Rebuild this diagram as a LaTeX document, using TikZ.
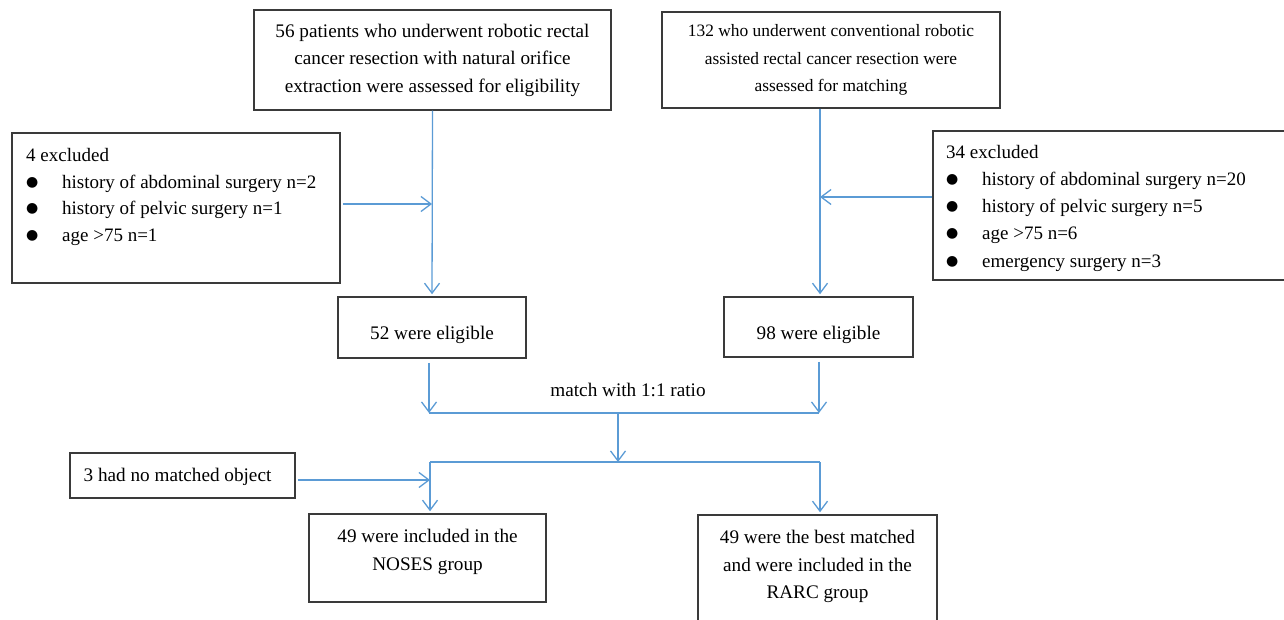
\documentclass[tikz,border=0pt]{standalone}
\usepackage{fontspec}
\setmainfont{Liberation Serif}
\newfontfamily\dejavu{DejaVu Sans}
\usetikzlibrary{arrows.meta}
\definecolor{flowblue}{HTML}{5B9BD5}
\definecolor{boxgray}{HTML}{3A3A3A}
\newcommand{\bul}{\makebox[36pt][l]{\raisebox{2pt}{\dejavu\fontsize{14}{14}\selectfont ●}}}
\tikzset{
  box/.style={draw=boxgray, line width=1.5pt, inner sep=0pt, align=center},
  big/.style={font=\fontsize{19.2}{27.5}\selectfont},
  small/.style={font=\fontsize{17.4}{27.3}\selectfont},
  list/.style={inner sep=0pt, align=left, font=\fontsize{19}{26.7}\selectfont},
  listr/.style={inner sep=0pt, align=left, font=\fontsize{19}{27.2}\selectfont},
  arr/.style={draw=flowblue, line width=1.3pt, -{Straight Barb[length=10pt,width=15pt,line width=1.3pt]}},
  ln/.style={draw=flowblue, line width=1.3pt}
}
\begin{document}
\begin{tikzpicture}[x=1pt,y=-1pt]
\useasboundingbox (0,0) rectangle (1284,620);
% boxes
\node[box,big,minimum width=357,minimum height=100] (tl) at (432.5,60)
  {56 patients who underwent robotic rectal\\cancer resection with natural orifice\\extraction were assessed for eligibility};
\node[box,small,minimum width=338,minimum height=96] (tr) at (831,60)
  {132 who underwent conventional robotic\\assisted rectal cancer resection were\\assessed for matching};
\node[box,minimum width=328,minimum height=150] (exclL) at (176,208) {};
\node[list,anchor=north west] (exclLt) at (26,148)
  {4 excluded\\\bul history of abdominal surgery n=2\\\bul history of pelvic surgery n=1\\\bul age >75 n=1};
\node[box,minimum width=352,minimum height=149] (exclR) at (1109,205.5) {};
\node[listr,anchor=north west] (exclRt) at (946,145)
  {34 excluded\\\bul history of abdominal surgery n=20\\\bul history of pelvic surgery n=5\\\bul age >75 n=6\\\bul emergency surgery n=3};
\node[box,big,minimum width=188,minimum height=61,text height=26pt,text depth=2pt] (e52) at (432,327.5) {52 were eligible};
\node[box,big,minimum width=189,minimum height=60,text height=26pt,text depth=2pt] (e98) at (818.5,327) {98 were eligible};
\node[big,inner sep=0pt] (match) at (628,390) {match with 1:1 ratio};
\node[box,big,minimum width=225,minimum height=45] (nomatch) at (182.5,475.5) {};
\node[big,inner sep=0pt,xshift=-5pt,yshift=-1pt] (nomatcht) at (nomatch.center) {3 had no matched object};
\node[box,minimum width=237,minimum height=88] (noses) at (427.5,558) {};
\node[big,align=center,inner sep=0pt,anchor=north,yshift=-16pt] (nosest) at (noses.north) {49 were included in the\\NOSES group};
\node[box,minimum width=239,minimum height=112] (rarc) at (817.5,571) {};
\node[big,align=center,inner sep=0pt,anchor=north,yshift=-16pt] (rarct) at (rarc.north) {49 were the best matched\\and were included in the\\RARC group};
% junction coordinates
\coordinate (jl) at (432,204);
\coordinate (jr) at (820,197);
\coordinate (m1) at (429,413);
\coordinate (m2) at (819,413);
\coordinate (mm) at (618,413);
\coordinate (sm) at (618,462);
\coordinate (s1) at (430,462);
\coordinate (s2) at (820,462);
\coordinate (nm) at (430,480);
% connectors
\draw[arr,shorten >=2pt] (tl.south) -- (e52.north);
\draw[arr] ([xshift=2pt]exclL.east |- jl) -- (jl);
\draw[arr,shorten >=2pt] (jr |- tr.south) -- (jr |- e98.north);
\draw[arr] (exclR.west |- jr) -- (jr);
\draw[arr,shorten <=4pt] (m1 |- e52.south) -- (m1);
\draw[arr,shorten <=4pt] (m2 |- e98.south) -- (m2);
\draw[ln] (m1) -- (m2);
\draw[arr] (mm) -- (sm);
\draw[ln] (s1) -- (s2);
\draw[arr,shorten >=2pt] (s1) -- (s1 |- noses.north);
\draw[arr,shorten >=2pt] (s2) -- (s2 |- rarc.north);
\draw[arr] ([xshift=2pt]nomatch.east |- nm) -- (nm);
\end{tikzpicture}
\end{document}
